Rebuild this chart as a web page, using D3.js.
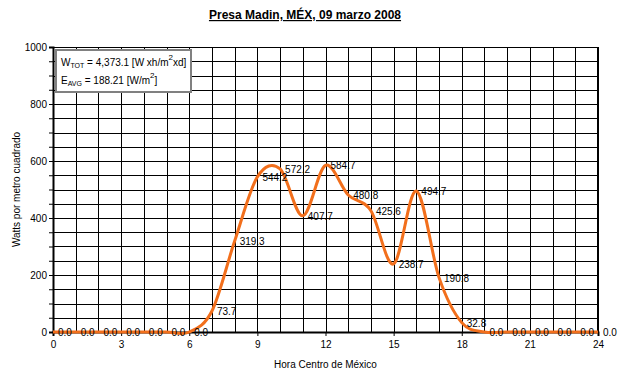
<!DOCTYPE html>
<html>
<head>
<meta charset="utf-8">
<script src="https://cdn.jsdelivr.net/npm/d3@7"></script>
<style>
  body { margin: 0; background: #fff; }
  text { font-family: "Liberation Sans", Arial, sans-serif; }
</style>
</head>
<body>
<script>
var hours = [0, 1, 2, 3, 4, 5, 6, 7, 8, 9, 10, 11, 12, 13, 14, 15, 16, 17, 18, 19, 20, 21, 22, 23, 24];
var watts = [0, 0, 0, 0, 0, 0, 0, 73.7, 319.3, 544.2, 572.2, 407.7, 584.7, 480.8, 425.6, 238.7, 494.7, 190.8, 32.8, 0, 0, 0, 0, 0, 0];
var xTicks = [0, 3, 6, 9, 12, 15, 18, 21, 24];
var yTicks = [0, 200, 400, 600, 800, 1000];

var width = 637;
var height = 379;
var padL = 53, padR = 598, padT = 47, padB = 332;

var svg = d3.select("body").append("svg").attr("width", width).attr("height", height);

var xScale = d3.scaleLinear().domain([0, 24]).range([padL, padR]);
var yScale = d3.scaleLinear().domain([0, 1000]).range([padB, padT]);

// grid
var grid = svg.append("g").attr("stroke", "#000").attr("stroke-width", 1);
grid.selectAll("line.v")
  .data(d3.range(1, 25))
  .enter().append("line")
  .attr("x1", function(d) { return Math.round(xScale(d)) + 0.5; })
  .attr("x2", function(d) { return Math.round(xScale(d)) + 0.5; })
  .attr("y1", padT).attr("y2", padB);
grid.selectAll("line.h")
  .data(d3.range(50, 1001, 50))
  .enter().append("line")
  .attr("y1", function(d) { return Math.round(yScale(d)) + 0.5; })
  .attr("y2", function(d) { return Math.round(yScale(d)) + 0.5; })
  .attr("x1", padL).attr("x2", padR);

// axes
var axisy = d3.axisLeft(yScale).tickValues(d3.range(0, 1001, 50)).tickSize(4)
  .tickFormat(function(d) { return yTicks.indexOf(d) >= 0 ? d : ""; });
var gy = svg.append("g").attr("transform", "translate(" + padL + ",0)").call(axisy);
gy.select(".domain").attr("stroke-width", 2);
gy.selectAll("text").attr("font-size", 10).attr("x", -6).attr("fill", "#000");

var axisx = d3.axisBottom(xScale).tickValues(xTicks).tickSize(4).tickPadding(5);
var gx = svg.append("g").attr("transform", "translate(0," + padB + ")").call(axisx);
gx.select(".domain").attr("stroke-width", 2);
gx.selectAll("text").attr("font-size", 10).attr("fill", "#000");

svg.append("line").attr("x1", padR).attr("x2", padR).attr("y1", padT).attr("y2", padB)
  .attr("stroke", "#000").attr("stroke-width", 2);

// line
var line = d3.line()
  .x(function(d, i) { return xScale(hours[i]); })
  .y(function(d) { return yScale(d); })
  .curve(d3.curveCardinal.tension(0));

svg.append("path")
  .datum(watts)
  .attr("d", line)
  .attr("fill", "none")
  .attr("stroke", "#f26f1c")
  .attr("stroke-width", 3);

// data labels
svg.append("g").selectAll("text")
  .data(watts)
  .enter().append("text")
  .attr("x", function(d, i) { return xScale(hours[i]) + 5; })
  .attr("y", function(d) { return yScale(d) + 4; })
  .attr("font-size", 10)
  .attr("fill", "#000")
  .text(function(d) { return d.toFixed(1); });

// title
svg.append("text")
  .attr("x", 305).attr("y", 19)
  .attr("text-anchor", "middle")
  .attr("font-size", 12).attr("font-weight", "bold")
  .attr("text-decoration", "underline")
  .text("Presa Madin, MÉX, 09 marzo 2008");

// axis titles
svg.append("text")
  .attr("transform", "translate(20," + ((padT + padB) / 2) + ") rotate(-90)")
  .attr("text-anchor", "middle")
  .attr("font-size", 10)
  .text("Watts por metro cuadrado");

svg.append("text")
  .attr("x", (padL + padR) / 2).attr("y", 368)
  .attr("text-anchor", "middle")
  .attr("font-size", 10)
  .text("Hora Centro de México");

// info box
var box = svg.append("g");
box.append("rect")
  .attr("x", 56).attr("y", 50).attr("width", 135).attr("height", 42)
  .attr("fill", "#fff").attr("stroke", "#808080").attr("stroke-width", 2);

var t1 = box.append("text").attr("x", 61).attr("y", 66).attr("font-size", 10);
t1.append("tspan").text("W");
t1.append("tspan").attr("font-size", 7).attr("dy", 2).text("TOT");
t1.append("tspan").attr("dy", -2).text(" = 4,373.1 [W xh/m");
t1.append("tspan").attr("font-size", 8).attr("dy", -6).text("2");
t1.append("tspan").attr("dy", 6).text("xd]");

var t2 = box.append("text").attr("x", 61).attr("y", 84).attr("font-size", 10);
t2.append("tspan").text("E");
t2.append("tspan").attr("font-size", 7).attr("dy", 2).text("AVG");
t2.append("tspan").attr("dy", -2).text(" = 188.21 [W/m");
t2.append("tspan").attr("font-size", 8).attr("dy", -6).text("2");
t2.append("tspan").attr("dy", 6).text("]");
</script>
</body>
</html>
